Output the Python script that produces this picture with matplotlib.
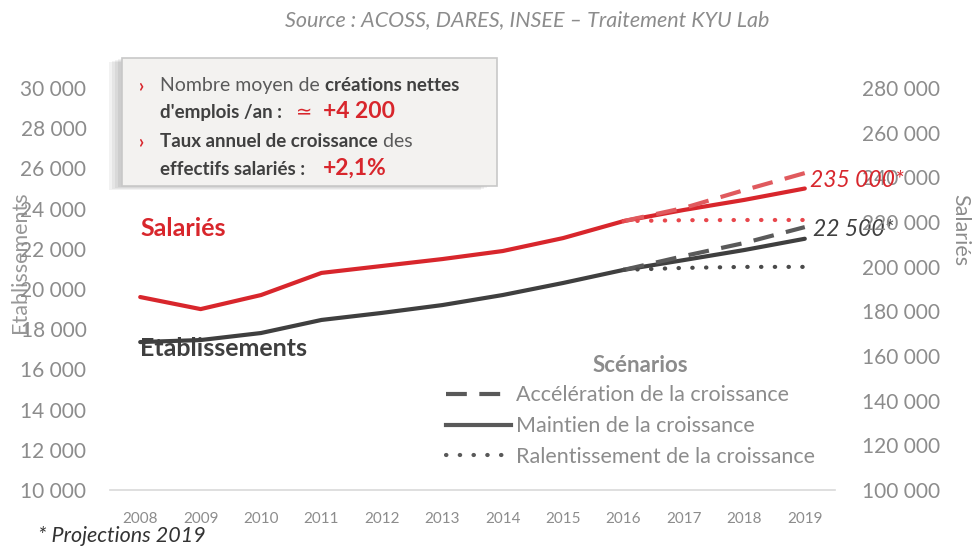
import matplotlib
matplotlib.use("Agg")
import matplotlib.pyplot as plt
from matplotlib.lines import Line2D
from matplotlib.patches import Rectangle

plt.rcParams["font.family"] = ["Lato", "DejaVu Sans"]

# data
years = [2008, 2009, 2010, 2011, 2012, 2013, 2014, 2015, 2016]
etab = [17360, 17460, 17810, 18460, 18810, 19200, 19700, 20300, 20950]
salaries = [186400, 181000, 187300, 197200, 200300, 203400, 207000, 212800, 220400]

proj_years = [2016, 2017, 2018, 2019]
etab_accel = [20950, 21640, 22290, 23080]
etab_maint = [20950, 21440, 21940, 22500]
etab_ralent = [20950, 21050, 21100, 21100]
sal_accel = [220400, 226300, 234300, 241900]
sal_maint = [220400, 225400, 229900, 235000]
sal_ralent = [220400, 220800, 220900, 220900]

left_ticks = list(range(10000, 30001, 2000))
right_ticks = list(range(100000, 280001, 20000))
scenarios = ["Accélération de la croissance", "Maintien de la croissance",
             "Ralentissement de la croissance"]

RED = "#d8262c"
DARK = "#3f3f3f"
GRAY = "#8c8c8c"
W, H = 972, 547


def fx(px):
    return px / W


def fy(py):
    return 1 - py / H


def fmt(v):
    return f"{v:,}".replace(",", " ")


fig = plt.figure(figsize=(9.72, 5.47), dpi=100)
ax = fig.add_axes([fx(110), fy(490), fx(835) - fx(110), fy(88) - fy(490)])
ax2 = ax.twinx()

ax.set_xlim(2007.5, 2019.5)
ax.set_ylim(10000, 30000)
ax2.set_ylim(100000, 280000)

# établissements (left axis)
ax.plot(years, etab, color=DARK, lw=3, solid_capstyle="round")
ax.plot(proj_years, etab_maint, color=DARK, lw=3, solid_capstyle="round")
ax.plot(proj_years, etab_accel, color="#5a5a5a", lw=3, dashes=(5, 3))
ax.plot(proj_years, etab_ralent, color="#4a4a4a", lw=3, dashes=(0.1, 3.2),
        dash_capstyle="round")

# salariés (right axis)
ax2.plot(years, salaries, color=RED, lw=3, solid_capstyle="round")
ax2.plot(proj_years, sal_maint, color=RED, lw=3, solid_capstyle="round")
ax2.plot(proj_years, sal_accel, color="#e05a5e", lw=3, dashes=(5, 3))
ax2.plot(proj_years, sal_ralent, color="#e8474c", lw=3, dashes=(0.1, 3.2),
         dash_capstyle="round")

ax.set_xticks(years + [2017, 2018, 2019])
ax.tick_params(axis="x", length=0, pad=16, labelsize=11, labelcolor=GRAY)
ax.set_yticks(left_ticks)
ax.set_yticklabels([fmt(v) for v in left_ticks])
ax.tick_params(axis="y", length=0, pad=17, labelsize=15, labelcolor=GRAY)
ax2.set_yticks(right_ticks)
ax2.set_yticklabels([fmt(v) for v in right_ticks])
ax2.tick_params(axis="y", length=0, pad=19.5, labelsize=15, labelcolor=GRAY)

for a in (ax, ax2):
    for s in ("top", "left", "right"):
        a.spines[s].set_visible(False)
ax2.spines["bottom"].set_visible(False)
ax.spines["bottom"].set_color("#d9d9d9")
ax.spines["bottom"].set_linewidth(1.2)

# axis titles (they sit over the tick labels in the original)
fig.text(fx(20), fy(262), "Etablissements", color=GRAY, fontsize=15.5,
         rotation=90, ha="center", va="center", alpha=0.9)
fig.text(fx(960), fy(230), "Salariés", color=GRAY, fontsize=15.5,
         rotation=270, ha="center", va="center")

# series labels
fig.text(fx(140), fy(228), "Salariés", color=RED, fontsize=18,
         fontweight="bold", va="center")
fig.text(fx(140), fy(349), "Etablissements", color=DARK, fontsize=18,
         fontweight="bold", va="center")
ax2.annotate(fmt(sal_maint[-1]) + "*", (2019, sal_maint[-1]),
             xytext=(4, 6), textcoords="offset points",
             color=RED, fontsize=16.5, style="italic", va="center")
ax.annotate(fmt(etab_maint[-1]) + "*", (2019, etab_maint[-1]),
            xytext=(6, 7), textcoords="offset points",
            color=DARK, fontsize=16.5, style="italic", va="center")

# legend
handles = [
    Line2D([], [], color="#595959", lw=3, dashes=(5, 3)),
    Line2D([], [], color="#595959", lw=3),
    Line2D([], [], color="#595959", lw=3, dashes=(0.1, 3.2), dash_capstyle="round"),
]
leg = fig.legend(handles, scenarios, loc="upper left",
                 bbox_to_anchor=(fx(427), fy(366)), frameon=False,
                 fontsize=15.5, handlelength=3.0, handletextpad=0.25,
                 labelspacing=0.5, borderpad=0.4)
for t in leg.get_texts():
    t.set_color(GRAY)
fig.text(fx(640), fy(365), "Scénarios", color=GRAY, fontsize=16,
         fontweight="bold", ha="center", va="center")

# info box with shadow
for i in range(4):
    d = 4 + i * 3
    fig.patches.append(Rectangle((fx(122 - d), fy(186 + d * 0.3)),
                                 fx(372), fy(58) - fy(186),
                                 transform=fig.transFigure, facecolor="#000000",
                                 alpha=0.05, edgecolor="none", zorder=1))
fig.patches.append(Rectangle((fx(122), fy(186)), fx(375), fy(58) - fy(186),
                             transform=fig.transFigure, facecolor="#f3f2f0",
                             edgecolor="#c8c8c8", lw=1.2, zorder=2))

fig.canvas.draw()
renderer = fig.canvas.get_renderer()


def rich(x, y, pieces):
    for txt, props in pieces:
        t = fig.text(fx(x), fy(y), txt, va="baseline", zorder=5, **props)
        bb = t.get_window_extent(renderer)
        x = bb.x1


norm = {"color": "#5a5a5a", "fontsize": 14}
bold = {"color": "#404040", "fontsize": 13.5, "fontweight": "bold"}
bigred = {"color": RED, "fontsize": 16.5, "fontweight": "bold"}

fig.text(fx(138), fy(91), "›", color=RED, fontsize=13, fontweight="bold", zorder=5)
fig.text(fx(138), fy(147), "›", color=RED, fontsize=13, fontweight="bold", zorder=5)
rich(160, 91, [("Nombre moyen de ", norm), ("créations nettes", bold)])
rich(160, 118, [("d'emplois /an :   ", bold), ("≃", {"color": RED, "fontsize": 14}),
                ("  +4 200", bigred)])
rich(160, 147, [("Taux annuel de croissance", bold), (" des", norm)])
rich(160, 175, [("effectifs salariés :    ", bold), ("+2,1%", bigred)])

fig.text(fx(527), fy(20), "Source : ACOSS, DARES, INSEE – Traitement KYU Lab",
         ha="center", va="center", color=GRAY, fontsize=15.5, style="italic")
fig.text(fx(38), fy(536), "* Projections 2019", ha="left", va="center",
         color="#333333", fontsize=15.5, style="italic")

fig.savefig("out.png", dpi=100)
